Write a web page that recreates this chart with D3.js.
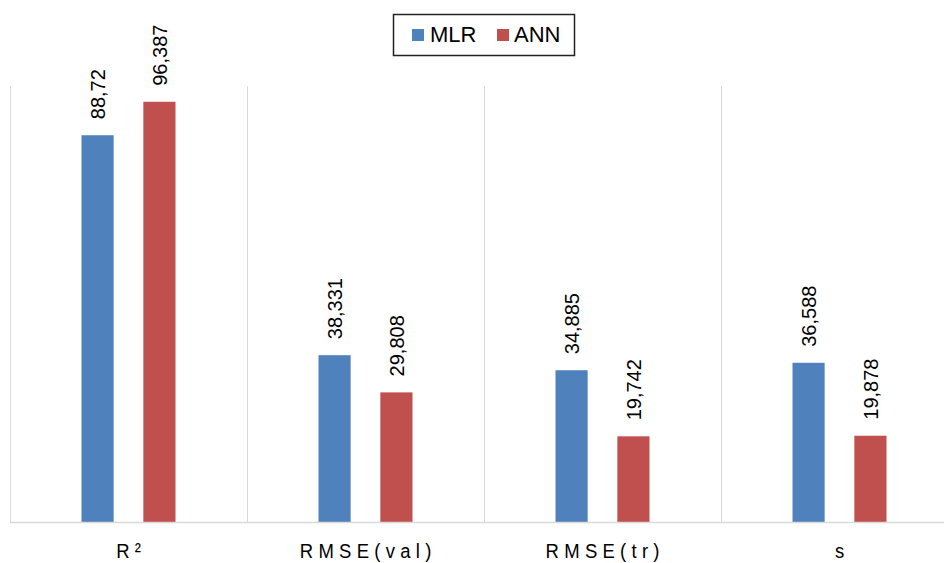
<!DOCTYPE html>
<html>
<head>
<meta charset="utf-8">
<script src="https://cdn.jsdelivr.net/npm/d3@7"></script>
<style>
  html, body { margin: 0; padding: 0; background: #fff; }
  svg { display: block; }
  text { font-family: "Liberation Sans", Arial, sans-serif; fill: #000; }
</style>
</head>
<body>
<svg id="chart" width="944" height="563"></svg>
<script>
// Model comparison: MLR vs ANN
const categories = ["R²", "RMSE(val)", "RMSE(tr)", "s"];
const seriesNames = ["MLR", "ANN"];
const mlrValues = [88.72, 38.331, 34.885, 36.588];
const annValues = [96.387, 29.808, 19.742, 19.878];
const labelText = {
  MLR: ["88,72", "38,331", "34,885", "36,588"],
  ANN: ["96,387", "29,808", "19,742", "19,878"]
};
const colors = { MLR: "#4F81BD", ANN: "#C0504D" };

const W = 944, H = 563;
const plot = { left: 10, right: 958, top: 86, bottom: 522.5 };

const svg = d3.select("#chart");

const x = d3.scaleBand()
  .domain(categories)
  .range([plot.left, plot.right])
  .paddingInner(0).paddingOuter(0);

// two bars per category, centred in the band
const xs = d3.scaleBand()
  .domain(seriesNames)
  .range([x.bandwidth() / 2 - 47, x.bandwidth() / 2 + 47])
  .paddingInner(0.48).paddingOuter(0);

const y = d3.scaleLinear().domain([0, 100]).range([plot.bottom, plot.top]);

// category separators
svg.append("g").selectAll("line")
  .data(categories)
  .join("line")
  .attr("x1", d => x(d) + 0.5).attr("x2", d => x(d) + 0.5)
  .attr("y1", plot.top).attr("y2", plot.bottom)
  .attr("stroke", "#d9d9d9").attr("stroke-width", 1);

const rows = categories.map((c, i) => ({ cat: c, MLR: mlrValues[i], ANN: annValues[i], i }));

const groups = svg.append("g").selectAll("g")
  .data(rows)
  .join("g")
  .attr("transform", d => `translate(${x(d.cat)},0)`);

groups.selectAll("rect")
  .data(d => seriesNames.map(s => ({ s, v: d[s], i: d.i })))
  .join("rect")
  .attr("x", d => xs(d.s))
  .attr("width", xs.bandwidth())
  .attr("y", d => y(d.v))
  .attr("height", d => y(0) - y(d.v))
  .attr("fill", d => colors[d.s]);

groups.selectAll("text.val")
  .data(d => seriesNames.map(s => ({ s, v: d[s], i: d.i })))
  .join("text")
  .attr("class", "val")
  .attr("transform", d => `translate(${xs(d.s) + xs.bandwidth() / 2},${y(d.v) - 16}) rotate(-90)`)
  .attr("dy", "0.36em")
  .attr("text-anchor", "start")
  .style("font-size", "20px")
  .text(d => labelText[d.s][d.i]);

// baseline
svg.append("line")
  .attr("x1", plot.left).attr("x2", W)
  .attr("y1", plot.bottom).attr("y2", plot.bottom)
  .attr("stroke", "#d9d9d9").attr("stroke-width", 1.5);

// category labels (narrow, widely spaced glyphs)
const ls = 6;
svg.append("g").selectAll("text")
  .data(categories)
  .join("text")
  .attr("transform", d => `translate(${x(d) + x.bandwidth() / 2 + ls * 0.45},558) scale(0.88,1)`)
  .attr("text-anchor", "middle")
  .style("font-size", "21px")
  .style("letter-spacing", ls + "px")
  .text(d => d);

// legend
const lg = svg.append("g");
lg.append("rect")
  .attr("x", 393.5).attr("y", 14.5).attr("width", 181).attr("height", 41)
  .attr("fill", "#fff").attr("stroke", "#222").attr("stroke-width", 1.5);
const legendItems = [
  { s: "MLR", sx: 412, tx: 430 },
  { s: "ANN", sx: 497, tx: 514 }
];
lg.selectAll("rect.key")
  .data(legendItems)
  .join("rect")
  .attr("class", "key")
  .attr("x", d => d.sx).attr("y", 29).attr("width", 12).attr("height", 12)
  .attr("fill", d => colors[d.s]);
lg.selectAll("text")
  .data(legendItems)
  .join("text")
  .attr("x", d => d.tx).attr("y", 42)
  .style("font-size", "22px")
  .text(d => d.s);
</script>
</body>
</html>
